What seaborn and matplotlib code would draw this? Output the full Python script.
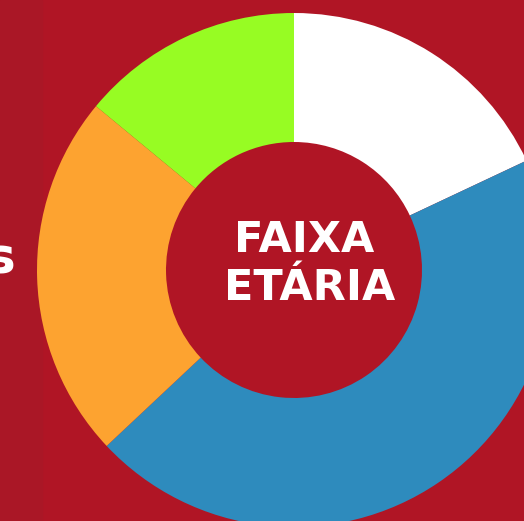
import matplotlib
matplotlib.use("Agg")
import matplotlib.pyplot as plt
import seaborn as sns

# Age-range shares, clockwise from 12 o'clock
faixas = ["Faixa 1", "Faixa 2", "Faixa 3", "Faixa 4"]
percentuais = [18, 45, 23, 14]
cores = ["#FFFFFF", "#2E8BBD", "#FDA330", "#97FC23"]

titulo = ["FAIXA", "ETÁRIA"]

fundo = "#B01525"
faixa_esq = "#AA1726"

sns.set_theme(style="white")
plt.rcParams["font.family"] = ["DejaVu Sans"]

W, H = 524, 521
fig = plt.figure(figsize=(W / 100, H / 100), dpi=100, facecolor=fundo)
ax = fig.add_axes([0, 0, 1, 1])
ax.set_facecolor(fundo)

# slightly darker strip on the left edge
ax.axvspan(0, 42, color=faixa_esq, zorder=0)

centro = (294, H - 270)
ax.pie(
    percentuais,
    colors=cores,
    startangle=90,
    counterclock=False,
    center=centro,
    radius=257,
    wedgeprops={"width": 129, "linewidth": 0},
    frame=True,
)
ax.set_xlim(0, W)
ax.set_ylim(0, H)
ax.set_aspect("equal")
ax.axis("off")

# two title lines, baselines
ax.text(304, H - 252, titulo[0], ha="center", va="baseline",
        color="white", fontsize=31, fontweight="bold")
ax.text(310, H - 300, titulo[1], ha="center", va="baseline",
        color="white", fontsize=31, fontweight="bold")

ax.text(15, H - 259, "s", ha="right", va="center", color="white",
        fontsize=36, fontweight="bold")

fig.savefig("out.png", dpi=100, facecolor=fundo)
